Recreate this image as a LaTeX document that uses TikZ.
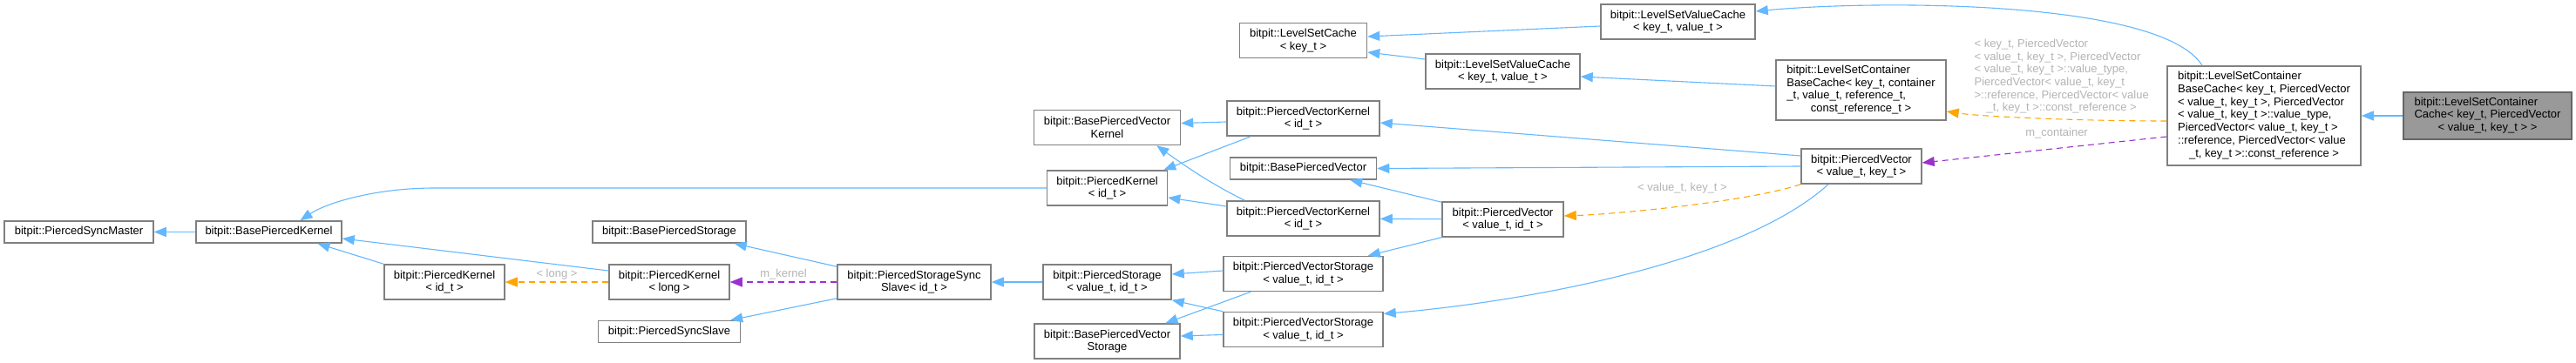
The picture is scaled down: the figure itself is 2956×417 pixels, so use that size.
\documentclass[tikz,border=0pt]{standalone}
\usepackage{fontspec}
\setmainfont{Liberation Sans}
\usepackage{tikz}
\usepackage{xcolor}
\usetikzlibrary{arrows.meta}
\definecolor{edgeblue}{HTML}{63B8FF}
\definecolor{tmplorange}{HTML}{FFA500}
\definecolor{usepurple}{HTML}{9A32CD}
\definecolor{boxline}{HTML}{808080}
\definecolor{boxfill}{HTML}{999999}
\definecolor{lblgray}{HTML}{B4B4B4}
\tikzset{
  cls/.style={
    draw=boxline, fill=white, line width=0.75pt,
    inner sep=0pt, align=center,
    font=\fontsize{6.5pt}{7.35pt}\selectfont
  },
  h1/.style={minimum height=12.5pt},
  h2/.style={minimum height=20pt},
  h3/.style={minimum height=27pt},
  h4/.style={minimum height=34.5pt},
  h7/.style={minimum height=57pt},
  current/.style={fill=boxfill, draw=boxline!80!black},
  lbl/.style={font=\fontsize{6.5pt}{7.35pt}\selectfont, text=lblgray, inner sep=1pt},
  inh/.style={draw=edgeblue, line width=0.55pt, -{Triangle[length=7pt,width=5.5pt]}},
  tmpl/.style={inh, draw=tmplorange, dash pattern=on 3.5pt off 2.5pt},
  usage/.style={inh, draw=usepurple, dash pattern=on 3.5pt off 2.5pt},
}
\newcommand{\wrapcls}[2]{\begin{tabular}{@{}l@{}}#1\\\multicolumn{1}{@{}c@{}}{#2}\end{tabular}}

\begin{document}
\begin{tikzpicture}[x=0.5pt, y=-0.5pt]

\fill[white] (0,0) rectangle (2956,417);
\useasboundingbox (0,0) rectangle (2956,417);

% kernel / storage side
\node[cls, h1, minimum width=85.5pt] (psm) at (90.5,266.5) {bitpit::PiercedSyncMaster};
\node[cls, h1, minimum width=83.5pt] (bpk) at (308.5,266.5) {bitpit::BasePiercedKernel};
\node[cls, h2, minimum width=69pt] (pkid) at (510,324) {bitpit::PiercedKernel\\< id\_t >};
\node[cls, h1, minimum width=88pt] (bps) at (768,266.5) {bitpit::BasePiercedStorage};
\node[cls, h2, minimum width=69pt] (pklong) at (768,324) {bitpit::PiercedKernel\\< long >};
\node[cls, h1, minimum width=81.5pt] (pss) at (768,381) {bitpit::PiercedSyncSlave};
\node[cls, h2, minimum width=88pt] (psss) at (1049,324) {bitpit::PiercedStorageSync\\Slave< id\_t >};
\node[cls, h2, minimum width=73.5pt] (pst) at (1270.5,324) {bitpit::PiercedStorage\\< value\_t, id\_t >};
\node[cls, h2, minimum width=83.5pt] (bpvs) at (1270.5,392) {bitpit::BasePiercedVector\\Storage};
\node[cls, h2, minimum width=84pt] (bpvk) at (1270.5,146.5) {bitpit::BasePiercedVector\\Kernel};
\node[cls, h2, minimum width=69pt] (pkid2) at (1270.5,216) {bitpit::PiercedKernel\\< id\_t >};
\node[cls, h2, minimum width=91.5pt] (pvs1) at (1495.5,314.5) {bitpit::PiercedVectorStorage\\< value\_t, id\_t >};
\node[cls, h2, minimum width=91.5pt] (pvs2) at (1495.5,378.5) {bitpit::PiercedVectorStorage\\< value\_t, id\_t >};
\node[cls, h2, minimum width=87.5pt] (pvk1) at (1495.5,136) {bitpit::PiercedVectorKernel\\< id\_t >};
\node[cls, h2, minimum width=87.5pt] (pvk2) at (1495.5,251) {bitpit::PiercedVectorKernel\\< id\_t >};
\node[cls, h1, minimum width=84pt] (bpv) at (1495.5,193.5) {bitpit::BasePiercedVector};
\node[cls, h2, minimum width=69.5pt] (pvid) at (1724.5,252) {bitpit::PiercedVector\\< value\_t, id\_t >};
\node[cls, h2, minimum width=69pt] (pvkey) at (2136,191) {bitpit::PiercedVector\\< value\_t, key\_t >};

% level set side
\node[cls, h2, minimum width=73pt] (lsc) at (1495.5,46.5) {bitpit::LevelSetCache\\< key\_t >};
\node[cls, h2, minimum width=88.5pt] (lsvc2) at (1724.5,82) {bitpit::LevelSetValueCache\\< key\_t, value\_t >};
\node[cls, h2, minimum width=88.5pt] (lsvc1) at (1925.5,25) {bitpit::LevelSetValueCache\\< key\_t, value\_t >};
\node[cls, h4, minimum width=97.5pt] (lscbc) at (2135.5,103.5)
  {\wrapcls{bitpit::LevelSetContainer\\BaseCache< key\_t, container\\\_t, value\_t, reference\_t,}{const\_reference\_t >}};
\node[cls, h7, minimum width=111pt] (big) at (2598,133)
  {\wrapcls{bitpit::LevelSetContainer\\BaseCache< key\_t, PiercedVector\\< value\_t, key\_t >, PiercedVector\\< value\_t, key\_t >::value\_type,\\PiercedVector< value\_t, key\_t >\\::reference, PiercedVector< value}{\_t, key\_t >::const\_reference >}};
\node[cls, current, h3, minimum width=96.5pt] (lscc) at (2854.5,133)
  {\wrapcls{bitpit::LevelSetContainer\\Cache< key\_t, PiercedVector}{< value\_t, key\_t > >}};

% inheritance
\draw[inh] (bpk) -- (psm);
\draw[inh] (pkid2.west) -- ++(-701.5,0) .. controls +(-70,0) and +(30,-20) .. ([shift={(36,0)}]bpk.north);
\draw[inh] ([shift={(0,-13)}]pklong.west) -- ([shift={(0,7.5)}]bpk.east);
\draw[inh] (pkid.north west) -- ([shift={(56,0)}]bpk.south);
\draw[inh] ([shift={(0,3)}]psss.north west) -- ([shift={(-14,0)}]bps.south east);
\draw[inh] ([shift={(0,-2)}]psss.south west) -- ([shift={(-12,0)}]pss.north east);
\draw[inh] (pst) -- (psss);
\draw[inh] ([shift={(0,-3.5)}]pvs1.west) -- ([shift={(0,-9)}]pst.east);
\draw[inh] (pvs2.north west) -- (pst.south east);
\draw[inh] ([shift={(32,0)}]pvs1.south west) -- ([shift={(67,0)}]bpvs.north);
\draw[inh] ([shift={(0,6)}]pvs2.west) -- ([shift={(0,-6)}]bpvs.east);
\draw[inh] ([shift={(0,4)}]pvk1.west) -- ([shift={(0,-5)}]bpvk.east);
\draw[inh] ([shift={(28,0)}]pvk1.south west) -- ([shift={(-5,0)}]pkid2.north east);
\draw[inh] ([shift={(21,0)}]pvk2.north west) .. controls +(-40,-20) and +(35,25) .. ([shift={(-28,0)}]bpvk.south east);
\draw[inh] ([shift={(0,-14)}]pvk2.west) -- ([shift={(0,11)}]pkid2.east);
\draw[inh] (pvid) -- (pvk2);
\draw[inh] (pvid.south west) -- ([shift={(-18,0)}]pvs1.north east);
\draw[inh] ([shift={(0,1)}]pvid.north west) -- ([shift={(-31,0)}]bpv.south east);
\draw[inh] (pvkey.west) -- (bpv.east);
\draw[inh] ([shift={(0,-12)}]pvkey.west) -- ([shift={(0,5)}]pvk1.east);
\draw[inh] ([shift={(-38,0)}]pvkey.south) .. controls +(-98,89) and +(170,-15) .. ([shift={(0,-18)}]pvs2.east);
\draw[inh] ([shift={(0,-14)}]lsvc2.west) -- ([shift={(0,13.5)}]lsc.east);
\draw[inh] ([shift={(0,5)}]lsvc1.west) -- ([shift={(0,-4.5)}]lsc.east);
\draw[inh] ([shift={(0,-4.5)}]lscbc.west) -- ([shift={(0,6)}]lsvc2.east);
\draw[inh] ([shift={(-71,0)}]big.north) .. controls +(-47,-76) and +(136,-13) .. ([shift={(0,-12)}]lsvc1.east);
\draw[inh] (lscc) -- (big);

% templates and members
\draw[tmpl] (pklong) -- node[lbl, above] {< long >} (pkid);
\draw[usage] (psss) -- node[lbl, above] {m\_kernel} (pklong);
\draw[tmpl] (pvkey.south west) .. controls +(-60,20) and +(60,-2) ..
  node[lbl, above=6pt] {< value\_t, key\_t >} ([shift={(0,-4)}]pvid.east);
\draw[tmpl] ([shift={(0,6)}]big.west) .. controls +(-100,0) and +(40,6) ..
  node[lbl, above=1pt, pos=0.4] {\wrapcls{< key\_t, PiercedVector\\< value\_t, key\_t >, PiercedVector\\< value\_t, key\_t >::value\_type,\\PiercedVector< value\_t, key\_t\\>::reference, PiercedVector< value}{\_t, key\_t >::const\_reference >}}
  ([shift={(0,24.5)}]lscbc.east);
\draw[usage] ([shift={(0,24)}]big.west) -- node[lbl, above=4.5pt, pos=0.45] {m\_container} ([shift={(0,-4)}]pvkey.east);

\end{tikzpicture}
\end{document}
